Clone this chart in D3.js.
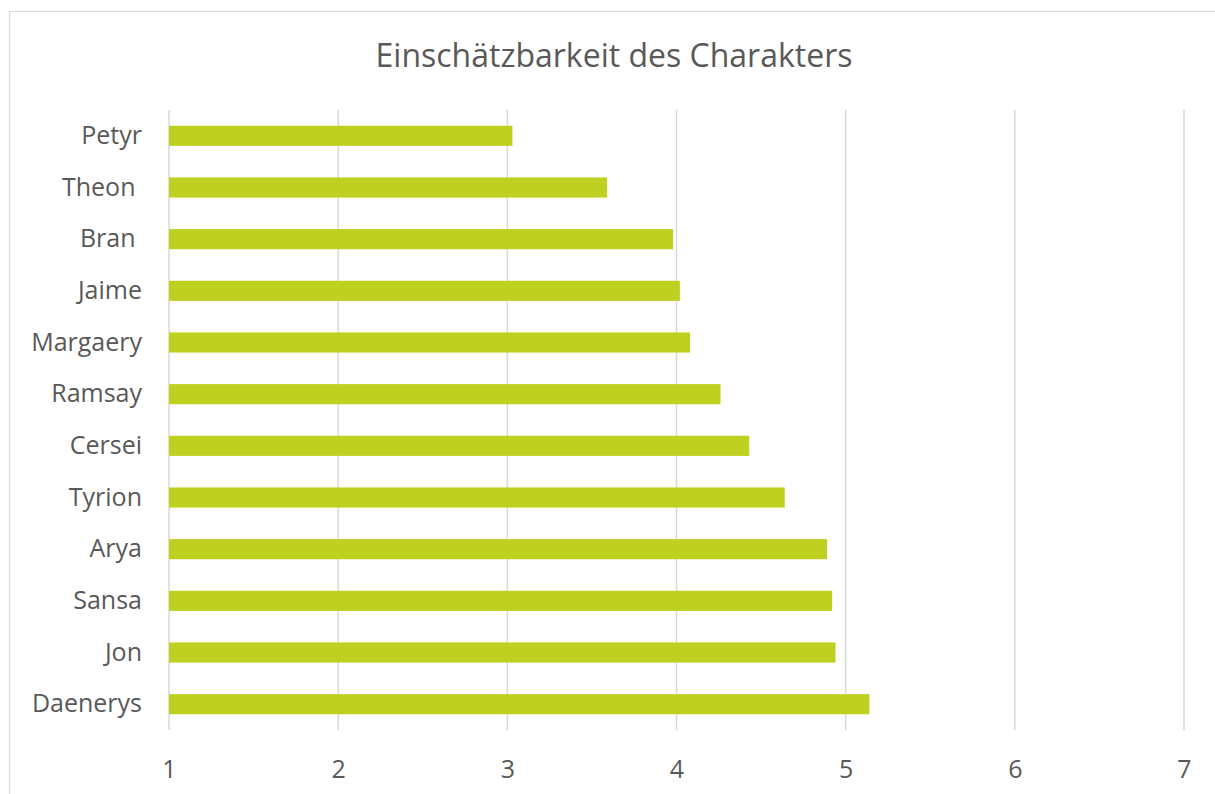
<!DOCTYPE html>
<html>
<head>
<meta charset="utf-8">
<script src="https://cdn.jsdelivr.net/npm/d3@7"></script>
<style>
  body { margin: 0; background: #fff; }
  svg text { font-family: "Open Sans", "DejaVu Sans", sans-serif; fill: #595959; white-space: pre; }
</style>
</head>
<body>
<svg id="chart"></svg>
<script>
// data, top to bottom
const names = ["Petyr", "Theon ", "Bran ", "Jaime", "Margaery", "Ramsay", "Cersei", "Tyrion", "Arya", "Sansa", "Jon", "Daenerys"];
const scores = [3.03, 3.59, 3.98, 4.02, 4.08, 4.26, 4.43, 4.64, 4.89, 4.92, 4.94, 5.14];
const xTicks = [1, 2, 3, 4, 5, 6, 7];
const title = "Einschätzbarkeit des Charakters";

const width = 1215;
const height = 794;
const marginLeft = 169;
const marginRight = 31;
const marginTop = 110;
const marginBottom = 64;
const barColor = "#BFD120";
const gridColor = "#D9D9D9";

const svg = d3.select("#chart")
    .attr("width", width)
    .attr("height", height)
    .attr("viewBox", [0, 0, width, height]);

// chart area border (runs off right and bottom)
svg.append("rect")
    .attr("x", 9.5)
    .attr("y", 11.5)
    .attr("width", width)
    .attr("height", height)
    .attr("fill", "#fff")
    .attr("stroke", gridColor)
    .attr("stroke-width", 1.2);

const xScale = d3.scaleLinear().domain([1, 7]).range([marginLeft, width - marginRight]);
const yScale = d3.scaleBand().domain(d3.range(names.length))
    .range([marginTop, height - marginBottom]).paddingInner(0.61).paddingOuter(0.305);

// gridlines
svg.append("g")
    .selectAll("line")
    .data(xTicks)
    .join("line")
    .attr("x1", d => xScale(d))
    .attr("x2", d => xScale(d))
    .attr("y1", marginTop)
    .attr("y2", height - marginBottom)
    .attr("stroke", gridColor)
    .attr("stroke-width", 1.5);

// bars
svg.append("g")
    .selectAll("rect")
    .data(scores)
    .join("rect")
    .attr("x", xScale(1))
    .attr("y", (d, i) => yScale(i))
    .attr("width", d => xScale(d) - xScale(1))
    .attr("height", yScale.bandwidth())
    .attr("fill", barColor);

// x axis labels
const xAxis = d3.axisBottom(xScale).tickValues(xTicks).tickSize(0).tickPadding(30).tickFormat(d3.format("d"));
svg.append("g")
    .attr("transform", `translate(0,${height - marginBottom})`)
    .call(xAxis)
    .call(g => g.select(".domain").remove())
    .call(g => g.selectAll("text").style("font-size", "25px").attr("fill", "#595959"));

// category labels
const yAxis = d3.axisLeft(yScale).tickSize(0).tickPadding(27).tickFormat(i => names[i]);
svg.append("g")
    .attr("transform", `translate(${marginLeft},0)`)
    .call(yAxis)
    .call(g => g.select(".domain").remove())
    .call(g => g.selectAll("text").style("font-size", "25px").attr("fill", "#595959"));

// title
svg.append("text")
    .attr("x", 614)
    .attr("y", 67)
    .attr("text-anchor", "middle")
    .style("font-size", "32px")
    .text(title);
</script>
</body>
</html>
